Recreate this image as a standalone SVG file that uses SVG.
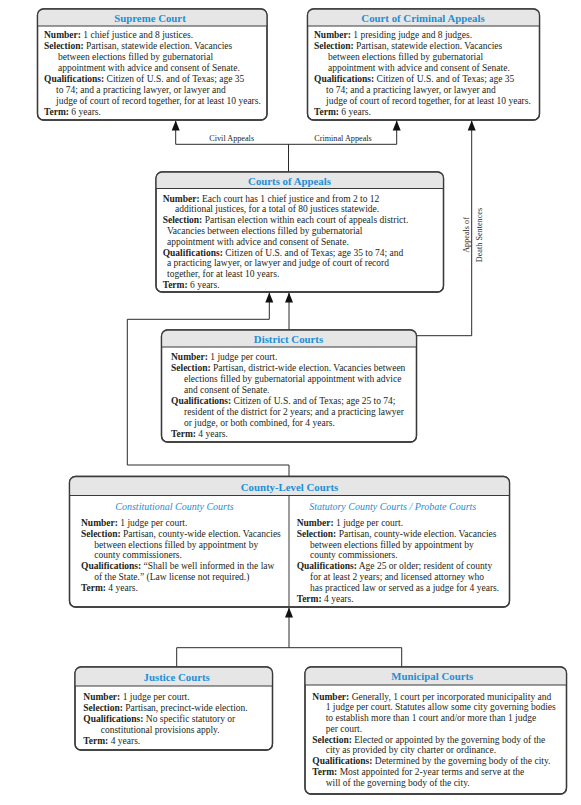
<svg xmlns="http://www.w3.org/2000/svg" width="581" height="805" viewBox="0 0 581 805">
<defs>
<style>
.box{fill:#fff;stroke:#3a3a3a;stroke-width:1.3}
.hd{fill:#e6e6e6}
.hl{stroke:#3a3a3a;stroke-width:1}
.ttl{font-family:"Liberation Serif","Times New Roman",serif;font-weight:bold;font-size:10.8px;fill:#1e8fd5;text-anchor:middle}
.sub{font-family:"Liberation Serif","Times New Roman",serif;font-style:italic;font-size:10px;fill:#1e8fd5;text-anchor:middle}
.t{font-family:"Liberation Serif","Times New Roman",serif;font-size:9.5px;fill:#231f20}
.b{font-weight:bold}
.lbl{font-family:"Liberation Serif","Times New Roman",serif;font-size:8.2px;fill:#231f20;text-anchor:middle}
.c{fill:none;stroke:#2a2a2a;stroke-width:1}
</style>
<marker id="ar" markerUnits="userSpaceOnUse" markerWidth="10" markerHeight="10" viewBox="0 0 10 10" refX="10" refY="5" orient="auto">
<path d="M0,1 L10,5 L0,9 Z" fill="#111"/>
</marker>
</defs>
<rect width="581" height="805" fill="#fff"/>

<g id="connectors">
<path class="c" d="M288.5,172 V144.3 M175.7,144.3 H396.7"/>
<path class="c" d="M175.7,144.3 V120.5" marker-end="url(#ar)"/>
<path class="c" d="M396.7,144.3 V120.5" marker-end="url(#ar)"/>
<path class="c" d="M416.5,335.7 H471.7 V120.5" marker-end="url(#ar)"/>
<path class="c" d="M289,330 V292.5" marker-end="url(#ar)"/>
<path class="c" d="M289,476.5 V465 H127.3 V319.3 H269.3 V292.5" marker-end="url(#ar)"/>
<path class="c" d="M176.7,667 V647.7 H401.7 V667"/>
<path class="c" d="M289,647.7 V607.5" marker-end="url(#ar)"/>
<text class="lbl" x="231.7" y="140.5">Civil Appeals</text>
<text class="lbl" x="343" y="140.5">Criminal Appeals</text>
<text class="lbl" transform="translate(468.5,235) rotate(-90)">Appeals of</text>
<text class="lbl" transform="translate(482,235) rotate(-90)">Death Sentences</text>
</g>

<g id="supreme-court">
<rect class="box" x="37.5" y="9" width="229.5" height="111" rx="6"/>
<path class="hd" d="M37.5,26 V15 Q37.5,9 43.5,9 H261 Q267,9 267,15 V26 Z"/>
<line class="hl" x1="37.5" y1="26" x2="267" y2="26"/>
<rect class="box" x="37.5" y="9" width="229.5" height="111" rx="6" style="fill:none"/>
<text class="ttl" x="150" y="21.5">Supreme Court</text>
<text class="t" x="44" y="37.5"><tspan class="b">Number:</tspan> 1 chief justice and 8 justices.</text>
<text class="t" x="44" y="48.5"><tspan class="b">Selection:</tspan> Partisan, statewide election. Vacancies</text>
<text class="t" x="58" y="59.6">between elections filled by gubernatorial</text>
<text class="t" x="58" y="70.7">appointment with advice and consent of Senate.</text>
<text class="t" x="44" y="81.8"><tspan class="b">Qualifications:</tspan> Citizen of U.S. and of Texas; age 35</text>
<text class="t" x="56" y="92.9">to 74; and a practicing lawyer, or lawyer and</text>
<text class="t" x="56" y="104">judge of court of record together, for at least 10 years.</text>
<text class="t" x="44" y="115.1"><tspan class="b">Term:</tspan> 6 years.</text>
</g>

<g id="court-of-criminal-appeals">
<rect class="box" x="307.5" y="9" width="232" height="111" rx="6"/>
<path class="hd" d="M307.5,26 V15 Q307.5,9 313.5,9 H533.5 Q539.5,9 539.5,15 V26 Z"/>
<line class="hl" x1="307.5" y1="26" x2="539.5" y2="26"/>
<rect class="box" x="307.5" y="9" width="232" height="111" rx="6" style="fill:none"/>
<text class="ttl" x="423" y="21.5">Court of Criminal Appeals</text>
<text class="t" x="314" y="37.5"><tspan class="b">Number:</tspan> 1 presiding judge and 8 judges.</text>
<text class="t" x="314" y="48.5"><tspan class="b">Selection:</tspan> Partisan, statewide election. Vacancies</text>
<text class="t" x="328" y="59.6">between elections filled by gubernatorial</text>
<text class="t" x="328" y="70.7">appointment with advice and consent of Senate.</text>
<text class="t" x="314" y="81.8"><tspan class="b">Qualifications:</tspan> Citizen of U.S. and of Texas; age 35</text>
<text class="t" x="326" y="92.9">to 74; and a practicing lawyer, or lawyer and</text>
<text class="t" x="326" y="104">judge of court of record together, for at least 10 years.</text>
<text class="t" x="314" y="115.1"><tspan class="b">Term:</tspan> 6 years.</text>
</g>

<g id="courts-of-appeals">
<rect class="box" x="156" y="172" width="287.5" height="120" rx="6"/>
<path class="hd" d="M156,188.5 V178 Q156,172 162,172 H437.5 Q443.5,172 443.5,178 V188.5 Z"/>
<line class="hl" x1="156" y1="188.5" x2="443.5" y2="188.5"/>
<rect class="box" x="156" y="172" width="287.5" height="120" rx="6" style="fill:none"/>
<text class="ttl" x="289.5" y="184.5">Courts of Appeals</text>
<text class="t" x="162.7" y="201.5"><tspan class="b">Number:</tspan> Each court has 1 chief justice and from 2 to 12</text>
<text class="t" x="175" y="212.3">additional justices, for a total of 80 justices statewide.</text>
<text class="t" x="162.7" y="223.1"><tspan class="b">Selection:</tspan> Partisan election within each court of appeals district.</text>
<text class="t" x="167" y="233.9">Vacancies between elections filled by gubernatorial</text>
<text class="t" x="167" y="244.7">appointment with advice and consent of Senate.</text>
<text class="t" x="162.7" y="255.5"><tspan class="b">Qualifications:</tspan> Citizen of U.S. and of Texas; age 35 to 74; and</text>
<text class="t" x="167" y="266.3">a practicing lawyer, or lawyer and judge of court of record</text>
<text class="t" x="167" y="277.1">together, for at least 10 years.</text>
<text class="t" x="162.7" y="287.9"><tspan class="b">Term:</tspan> 6 years.</text>
</g>

<g id="district-courts">
<rect class="box" x="161.5" y="330" width="255" height="112" rx="6"/>
<path class="hd" d="M161.5,347 V336 Q161.5,330 167.5,330 H410.5 Q416.5,330 416.5,336 V347 Z"/>
<line class="hl" x1="161.5" y1="347" x2="416.5" y2="347"/>
<rect class="box" x="161.5" y="330" width="255" height="112" rx="6" style="fill:none"/>
<text class="ttl" x="288.5" y="342.5">District Courts</text>
<text class="t" x="171" y="359.7"><tspan class="b">Number:</tspan> 1 judge per court.</text>
<text class="t" x="171" y="370.7"><tspan class="b">Selection:</tspan> Partisan, district-wide election. Vacancies between</text>
<text class="t" x="184" y="381.8">elections filled by gubernatorial appointment with advice</text>
<text class="t" x="184" y="392.8">and consent of Senate.</text>
<text class="t" x="171" y="403.9"><tspan class="b">Qualifications:</tspan> Citizen of U.S. and of Texas; age 25 to 74;</text>
<text class="t" x="184" y="414.9">resident of the district for 2 years; and a practicing lawyer</text>
<text class="t" x="184" y="426">or judge, or both combined, for 4 years.</text>
<text class="t" x="171" y="437"><tspan class="b">Term:</tspan> 4 years.</text>
</g>

<g id="county-level-courts">
<rect class="box" x="69.5" y="476.5" width="440" height="130.5" rx="6"/>
<path class="hd" d="M69.5,495.5 V482.5 Q69.5,476.5 75.5,476.5 H503.5 Q509.5,476.5 509.5,482.5 V495.5 Z"/>
<line class="hl" x1="69.5" y1="495.5" x2="509.5" y2="495.5"/>
<line class="hl" x1="289" y1="495.5" x2="289" y2="607"/>
<rect class="box" x="69.5" y="476.5" width="440" height="130.5" rx="6" style="fill:none"/>
<text class="ttl" x="289.5" y="491">County-Level Courts</text>
<text class="sub" x="174.5" y="510">Constitutional County Courts</text>
<text class="t" x="81" y="525.7"><tspan class="b">Number:</tspan> 1 judge per court.</text>
<text class="t" x="81" y="536.6"><tspan class="b">Selection:</tspan> Partisan, county-wide election. Vacancies</text>
<text class="t" x="94.3" y="547.5">between elections filled by appointment by</text>
<text class="t" x="94.3" y="558.4">county commissioners.</text>
<text class="t" x="81" y="569.3"><tspan class="b">Qualifications:</tspan> “Shall be well informed in the law</text>
<text class="t" x="94.3" y="580.2">of the State.” (Law license not required.)</text>
<text class="t" x="81" y="591.1"><tspan class="b">Term:</tspan> 4 years.</text>
<text class="sub" x="392.7" y="510">Statutory County Courts / Probate Courts</text>
<text class="t" x="296.7" y="525.7"><tspan class="b">Number:</tspan> 1 judge per court.</text>
<text class="t" x="296.7" y="536.6"><tspan class="b">Selection:</tspan> Partisan, county-wide election. Vacancies</text>
<text class="t" x="310" y="547.5">between elections filled by appointment by</text>
<text class="t" x="310" y="558.4">county commissioners.</text>
<text class="t" x="296.7" y="569.3"><tspan class="b">Qualifications:</tspan> Age 25 or older; resident of county</text>
<text class="t" x="310" y="580.2">for at least 2 years; and licensed attorney who</text>
<text class="t" x="310" y="591.1">has practiced law or served as a judge for 4 years.</text>
<text class="t" x="296.7" y="602"><tspan class="b">Term:</tspan> 4 years.</text>
</g>

<g id="justice-courts">
<rect class="box" x="75" y="667" width="197.5" height="83" rx="6"/>
<path class="hd" d="M75,686 V673 Q75,667 81,667 H266.5 Q272.5,667 272.5,673 V686 Z"/>
<line class="hl" x1="75" y1="686" x2="272.5" y2="686"/>
<rect class="box" x="75" y="667" width="197.5" height="83" rx="6" style="fill:none"/>
<text class="ttl" x="176.7" y="680.5">Justice Courts</text>
<text class="t" x="83.3" y="700.3"><tspan class="b">Number:</tspan> 1 judge per court.</text>
<text class="t" x="83.3" y="711.1"><tspan class="b">Selection:</tspan> Partisan, precinct-wide election.</text>
<text class="t" x="83.3" y="722"><tspan class="b">Qualifications:</tspan> No specific statutory or</text>
<text class="t" x="100.7" y="732.8">constitutional provisions apply.</text>
<text class="t" x="83.3" y="743.6"><tspan class="b">Term:</tspan> 4 years.</text>
</g>

<g id="municipal-courts">
<rect class="box" x="305" y="667" width="261.5" height="127" rx="6"/>
<path class="hd" d="M305,685 V673 Q305,667 311,667 H560.5 Q566.5,667 566.5,673 V685 Z"/>
<line class="hl" x1="305" y1="685" x2="566.5" y2="685"/>
<rect class="box" x="305" y="667" width="261.5" height="127" rx="6" style="fill:none"/>
<text class="ttl" x="432.3" y="680">Municipal Courts</text>
<text class="t" x="312.3" y="699.7"><tspan class="b">Number:</tspan> Generally, 1 court per incorporated municipality and</text>
<text class="t" x="325.7" y="710.4">1 judge per court. Statutes allow some city governing bodies</text>
<text class="t" x="325.7" y="721.2">to establish more than 1 court and/or more than 1 judge</text>
<text class="t" x="325.7" y="731.9">per court.</text>
<text class="t" x="312.3" y="742.7"><tspan class="b">Selection:</tspan> Elected or appointed by the governing body of the</text>
<text class="t" x="325.7" y="753.4">city as provided by city charter or ordinance.</text>
<text class="t" x="312.3" y="764.2"><tspan class="b">Qualifications:</tspan> Determined by the governing body of the city.</text>
<text class="t" x="312.3" y="774.9"><tspan class="b">Term:</tspan> Most appointed for 2-year terms and serve at the</text>
<text class="t" x="325.7" y="785.6">will of the governing body of the city.</text>
</g>
</svg>
